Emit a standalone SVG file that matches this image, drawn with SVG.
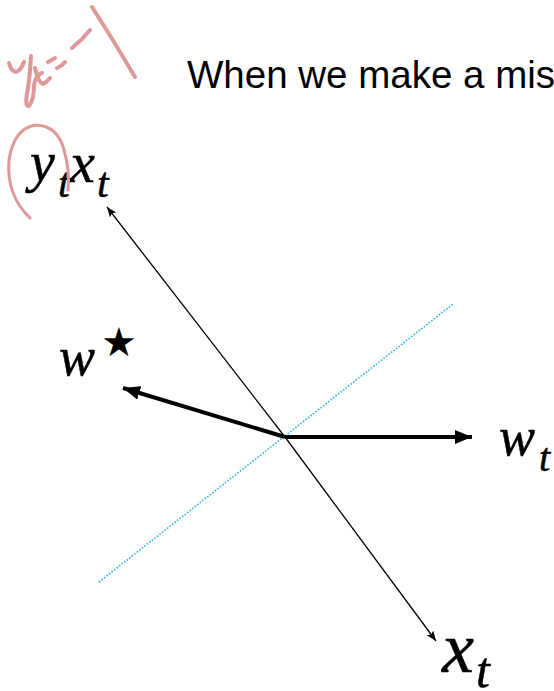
<svg xmlns="http://www.w3.org/2000/svg" width="554" height="691" viewBox="0 0 554 691">
<style>
.title{font-family:"Liberation Sans",Arial,sans-serif;font-size:38.5px;fill:#000}
.m{font-family:"Liberation Serif","Times New Roman",serif;font-style:italic;fill:#000;stroke:#000;stroke-width:0.5}
.thin{stroke:#000;stroke-width:1.3;fill:none}
.thick{stroke:#000;stroke-width:4;fill:none}
.dot{stroke:#2bb6e6;stroke-width:1.6;stroke-dasharray:1.6 1.6;fill:none}
.ink{stroke:#df9898;stroke-width:4;fill:none;stroke-linecap:round;stroke-linejoin:round}
</style>
<defs>
<marker id="ah-thin" markerUnits="userSpaceOnUse" markerWidth="12" markerHeight="10" refX="10" refY="4" orient="auto">
<path d="M0,0 L10,4 L0,8 L2,4 Z" fill="#000"/>
</marker>
<marker id="ah-thick" markerUnits="userSpaceOnUse" markerWidth="20" markerHeight="16" refX="17" refY="7" orient="auto">
<path d="M0,0 L17,7 L0,14 Z" fill="#000"/>
</marker>
</defs>
<rect width="554" height="691" fill="#fff"/>
<text class="title" x="187" y="88">When we make a mist</text>
<g id="connectors">
<line class="dot" x1="99" y1="582" x2="453" y2="304"/>
<line id="xt-line-up" class="thin" x1="285" y1="437" x2="107" y2="207" marker-end="url(#ah-thin)"/>
<line id="xt-line-down" class="thin" x1="285" y1="437" x2="436" y2="641" marker-end="url(#ah-thin)"/>
<line id="wt-arrow" class="thick" x1="285" y1="437" x2="472" y2="437" marker-end="url(#ah-thick)"/>
<line id="wstar-arrow" class="thick" x1="285" y1="437" x2="123" y2="388" marker-end="url(#ah-thick)"/>
</g>
<g id="label-ytxt">
<text class="m" x="30" y="181" font-size="56">y</text>
<text class="m" x="58" y="197" font-size="42">t</text>
<text class="m" x="70" y="182" font-size="56">x</text>
<text class="m" x="97" y="197" font-size="42">t</text>
</g>
<g id="label-wstar">
<text class="m" x="59" y="375" font-size="54">w</text>
<text x="119" y="356" font-size="40" text-anchor="middle" font-family="DejaVu Sans,sans-serif" fill="#000">★</text>
</g>
<g id="label-wt">
<text class="m" x="499" y="455" font-size="54">w</text>
<text class="m" x="539" y="471" font-size="40">t</text>
</g>
<g id="label-xt">
<text class="m" x="442" y="672" font-size="72">x</text>
<text class="m" x="476" y="687" font-size="50">t</text>
</g>
<g id="ink">
<path class="ink" d="M92,7 Q112,38 135,77"/>
<path class="ink" d="M72,48 Q82,40 90,30"/>
<path class="ink" d="M48,62 L55,58"/>
<path class="ink" d="M57,68 Q62,66 65,62"/>
<path class="ink" d="M9,63 Q12,74 18,71 Q22,68 24,62"/>
<path class="ink" d="M31,56 Q30,75 28,88 Q24,108 29,106 Q34,100 34,85 Q36,75 42,73"/>
<path class="ink" d="M35,68 Q38,82 43,84 Q47,82 50,78"/>
<path class="ink" style="stroke-width:3" d="M30,218 Q6,195 9,160 Q14,128 36,125 Q58,126 64,150 Q70,170 68,190"/>
</g>
</svg>
